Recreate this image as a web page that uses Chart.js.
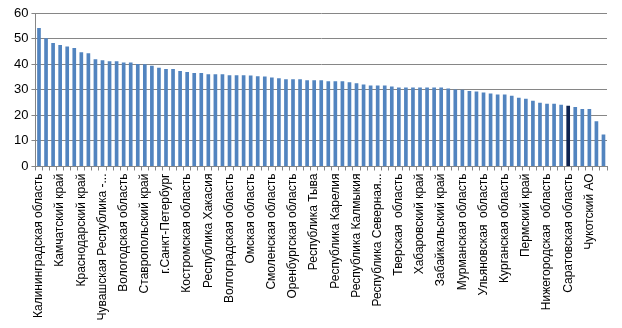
<!DOCTYPE html>
<html>
<head>
<meta charset="utf-8">
<script src="https://cdn.jsdelivr.net/npm/chart.js@4/dist/chart.umd.min.js"></script>
<style>
  html, body { margin: 0; padding: 0; background: #fff; }
  #wrap { width: 622px; height: 328px; }
</style>
</head>
<body>
<div id="wrap"><canvas id="myChart"></canvas></div>
<script>
// only every third region name is readable on the picture, the rest stay empty
const regionNames = [
  'Калининградская область', '', '',
  'Камчатский край', '', '',
  'Краснодарский край', '', '',
  'Чувашская Республика -...', '', '',
  'Вологодская область', '', '',
  'Ставропольский край', '', '',
  'г.Санкт-Петербург', '', '',
  'Костромская область', '', '',
  'Республика Хакасия', '', '',
  'Волгоградская область', '', '',
  'Омская область', '', '',
  'Смоленская область', '', '',
  'Оренбургская область', '', '',
  'Республика Тыва', '', '',
  'Республика Карелия', '', '',
  'Республика Калмыкия', '', '',
  'Республика Северная...', '', '',
  'Тверская  область', '', '',
  'Хабаровский край', '', '',
  'Забайкальский край', '', '',
  'Мурманская область', '', '',
  'Ульяновская  область', '', '',
  'Курганская область', '', '',
  'Пермский край', '', '',
  'Нижегородская  область', '', '',
  'Саратовская область', '', '',
  'Чукотский АО', '', ''
];

const values = [
  54.1, 50.1, 48.3, 47.5, 46.9, 46.3, 44.7, 44.3, 41.9, 41.5,
  41.1, 41.1, 40.7, 40.7, 40.1, 40.0, 39.4, 38.6, 38.1, 38.1,
  37.3, 36.9, 36.5, 36.5, 36.1, 36.1, 36.1, 35.7, 35.7, 35.7,
  35.6, 35.3, 35.2, 34.8, 34.5, 34.1, 34.1, 34.1, 33.7, 33.7,
  33.7, 33.3, 33.3, 33.3, 32.9, 32.5, 32.1, 31.7, 31.7, 31.7,
  31.3, 30.9, 30.9, 30.9, 30.9, 30.9, 30.9, 30.9, 30.5, 30.1,
  30.0, 29.5, 29.3, 28.9, 28.5, 28.1, 28.1, 27.7, 26.9, 26.5,
  25.7, 24.9, 24.5, 24.5, 24.1, 23.7, 23.3, 22.5, 22.5, 17.7,
  12.5
];

const yTicks = [0, 10, 20, 30, 40, 50, 60];
const highlighted = 'Саратовская область';

const ctx = document.getElementById('myChart');

new Chart(ctx, {
  type: 'bar',
  data: {
    labels: regionNames,
    datasets: [{
      data: values,
      backgroundColor: regionNames.map(n => n === highlighted ? '#0f2452' : '#5284bf'),
      borderWidth: 0,
      barPercentage: 0.52,
      categoryPercentage: 1
    }]
  },
  options: {
    responsive: true,
    maintainAspectRatio: false,
    animation: false,
    layout: {
      padding: { left: 11, right: 15, top: 13, bottom: 8 }
    },
    scales: {
      x: {
        offset: true,
        grid: {
          offset: true,
          drawOnChartArea: false,
          color: '#868686',
          tickLength: 4
        },
        border: { color: '#868686' },
        ticks: {
          autoSkip: false,
          minRotation: 90,
          maxRotation: 90,
          padding: 3,
          color: '#000',
          font: { family: 'Liberation Sans', size: 12 }
        }
      },
      y: {
        min: yTicks[0],
        max: yTicks[yTicks.length - 1],
        afterBuildTicks: axis => { axis.ticks = yTicks.map(v => ({ value: v })); },
        grid: { color: '#868686', tickLength: 4 },
        border: { color: '#868686' },
        ticks: {
          padding: 3,
          color: '#000',
          font: { family: 'Liberation Sans', size: 13 }
        }
      }
    },
    plugins: {
      legend: { display: false },
      tooltip: { enabled: false }
    }
  }
});
</script>
</body>
</html>
